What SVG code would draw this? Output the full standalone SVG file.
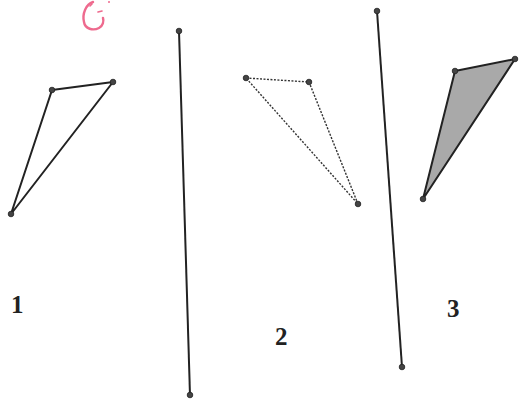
<svg xmlns="http://www.w3.org/2000/svg" width="519" height="400" viewBox="0 0 519 400">
<style>
.edge{stroke:#222;stroke-width:2;fill:none;stroke-linejoin:round}
.dot{fill:#444;stroke:#222;stroke-width:0.8}
.dash{stroke:#333;stroke-width:1.4;stroke-dasharray:2 1.5;fill:none}
.lbl{font-family:"Liberation Serif",serif;font-weight:bold;font-size:25px;fill:#222}
</style>
<rect width="519" height="400" fill="#fff"/>
<g id="mark" fill="none" stroke="#ee6a8e" stroke-width="2.4" stroke-linecap="round">
<path d="M93,2 C86,4 82,14 84,22 C85,29 93,31 99,28 C103,26 104,21 103,18"/>
<path d="M98,12 L102,11" stroke-width="1.6"/>
<path d="M90,6 L92,4" stroke-width="1.6"/>
<circle cx="109" cy="2" r="1" fill="#ee6a8e" stroke="none"/>
</g>
<g id="connectors">
<line class="edge" x1="179" y1="31" x2="190" y2="395"/>
<line class="edge" x1="377" y1="11" x2="402" y2="367"/>
</g>
<g id="triangle1">
<polygon class="edge" points="52,90 113,82 11,214"/>
<circle class="dot" cx="52" cy="90" r="2.8"/>
<circle class="dot" cx="113" cy="82" r="2.8"/>
<circle class="dot" cx="11" cy="214" r="2.8"/>
</g>
<g id="triangle2">
<polygon class="dash" points="246,78 309,82 358,204"/>
<circle class="dot" cx="246" cy="78" r="2.8"/>
<circle class="dot" cx="309" cy="82" r="2.8"/>
<circle class="dot" cx="358" cy="204" r="2.8"/>
</g>
<g id="triangle3">
<polygon class="edge" points="455,71 515,59 423,199" style="fill:#a9a9a9"/>
<circle class="dot" cx="455" cy="71" r="2.8"/>
<circle class="dot" cx="515" cy="59" r="2.8"/>
<circle class="dot" cx="423" cy="199" r="2.8"/>
</g>
<g id="ends">
<circle class="dot" cx="179" cy="31" r="2.8"/>
<circle class="dot" cx="190" cy="395" r="2.8"/>
<circle class="dot" cx="377" cy="11" r="2.8"/>
<circle class="dot" cx="402" cy="367" r="2.8"/>
</g>
<g id="labels">
<text class="lbl" x="11" y="313">1</text>
<text class="lbl" x="275" y="345">2</text>
<text class="lbl" x="447" y="317">3</text>
</g>
</svg>
